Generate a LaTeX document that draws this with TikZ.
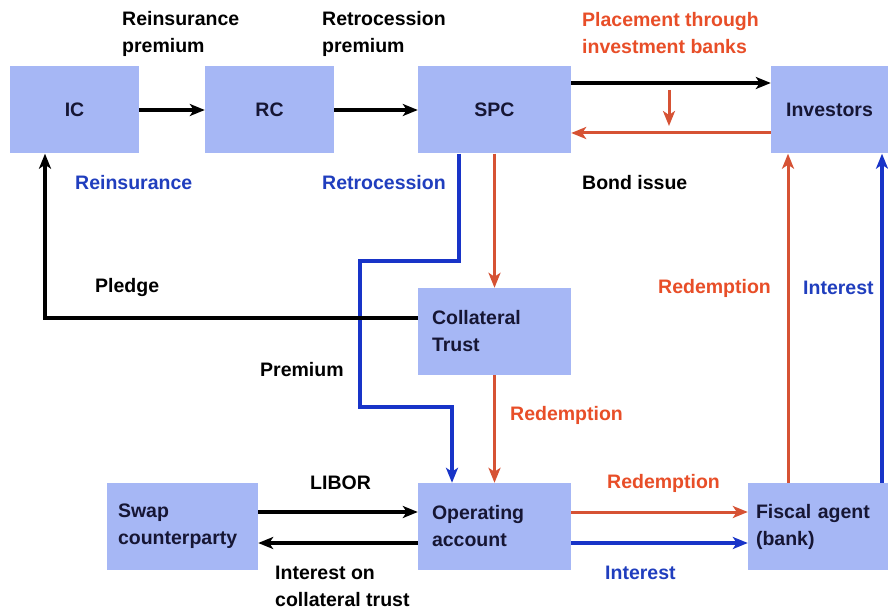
\documentclass[tikz,border=0pt]{standalone}
\usepackage{fontspec}
\setmainfont{Liberation Sans}
\usetikzlibrary{arrows.meta}
\definecolor{boxblue}{RGB}{166,183,245}
\definecolor{boxtext}{RGB}{22,22,52}
\definecolor{flowred}{RGB}{214,82,52}
\definecolor{txtred}{RGB}{232,78,40}
\definecolor{flowblue}{RGB}{24,52,200}
\definecolor{txtblue}{RGB}{32,62,190}
\begin{document}
\begin{tikzpicture}[x=1pt,y=-1pt,
	font=\fontsize{19.5}{27}\selectfont\bfseries,
	box/.style={fill=boxblue,text=boxtext,minimum height=87pt,inner ysep=0pt},
	lbox/.style={box,align=left,inner xsep=#1},
	lab/.style={anchor=west,align=left,inner sep=0pt},
	blk/.style={draw=black,line width=3.4pt,-{Stealth[length=15pt,width=12pt,inset=4pt]}},
	rd/.style={draw=flowred,line width=3pt,-{Stealth[length=15pt,width=12pt,inset=4pt]}},
	bl/.style={draw=flowblue,line width=3.2pt,-{Stealth[length=15pt,width=12pt,inset=4pt]}}]
	\useasboundingbox[fill=white] (0,0) rectangle (888,609);
	\node[box,minimum width=129pt] (ic) at (74.5,110) {IC};
	\node[box,minimum width=129pt] (rc) at (269.5,110) {RC};
	\node[box,minimum width=153pt] (spc) at (494.5,110) {SPC};
	\node[box,minimum width=117pt] (inv) at (829.5,110) {Investors};
	\node[lbox=14pt,text width=125pt] (ct) at (494.5,331.5) {Collateral\\Trust};
	\node[lbox=11pt,text width=129pt] (swap) at (182.5,526.5) {Swap\\counterparty};
	\node[lbox=14pt,text width=125pt] (op) at (494.5,526.5) {Operating\\account};
	\node[lbox=8pt,text width=124pt] (fa) at (818,526.5) {Fiscal agent\\(bank)};
	\node[lab] (l1) at (122,33.5) {Reinsurance\\premium};
	\node[lab] (l2) at (322,33.5) {Retrocession\\premium};
	\node[lab,text=txtred] (l3) at (582,33.5) {Placement through\\investment banks};
	\node[lab,text=txtblue] (l4) at (75,183) {Reinsurance};
	\node[lab,text=txtblue] (l5) at (322,183) {Retrocession};
	\node[lab] (l6) at (582,183) {Bond issue};
	\node[lab] (l7) at (95,288) {Pledge};
	\node[lab] (l8) at (260,370) {Premium};
	\node[lab,text=txtred] (l9) at (658,288) {Redemption};
	\node[lab,text=txtblue] (l10) at (803,288) {Interest};
	\node[lab,text=txtred] (l11) at (510,415) {Redemption};
	\node[lab] (l12) at (310,483) {LIBOR};
	\node[lab] (l13) at (275,586.5) {Interest on\\collateral trust};
	\node[lab,text=txtred] (l14) at (607,483) {Redemption};
	\node[lab,text=txtblue] (l15) at (605,573) {Interest};
	\coordinate (pa) at (669,90);
	\coordinate (pb) at (669,126);
	\draw[blk] (ic) -- (rc);
	\draw[blk] (rc) -- (spc);
	\draw[blk] ([yshift=27pt]spc.east) -- ([yshift=27pt]inv.west);
	\draw[rd] ([yshift=-23pt]inv.west) -- ([yshift=-23pt]spc.east);
	\draw[rd] (pa) -- (pb);
	\draw[bl] ([xshift=-35.5pt]spc.south) |- (360,261) |- (452,407) -- ([xshift=-42.5pt]op.north);
	\draw[rd] (spc) -- (ct);
	\draw[rd] (ct) -- (op);
	\draw[blk] ([yshift=13.5pt]ct.west) -| ([xshift=-29.5pt]ic.south);
	\draw[blk] ([yshift=14.5pt]swap.east) -- ([yshift=14.5pt]op.west);
	\draw[blk] ([yshift=-16.5pt]op.west) -- ([yshift=-16.5pt]swap.east);
	\draw[rd] ([yshift=14.5pt]op.east) -- ([yshift=14.5pt]fa.west);
	\draw[bl] ([yshift=-16.5pt]op.east) -- ([yshift=-16.5pt]fa.west);
	\draw[rd] ([xshift=-30pt]fa.north) -- ([xshift=-30pt]fa.north |- inv.south);
	\draw[bl] ([xshift=64pt]fa.north) -- ([xshift=64pt]fa.north |- inv.south);
\end{tikzpicture}
\end{document}
